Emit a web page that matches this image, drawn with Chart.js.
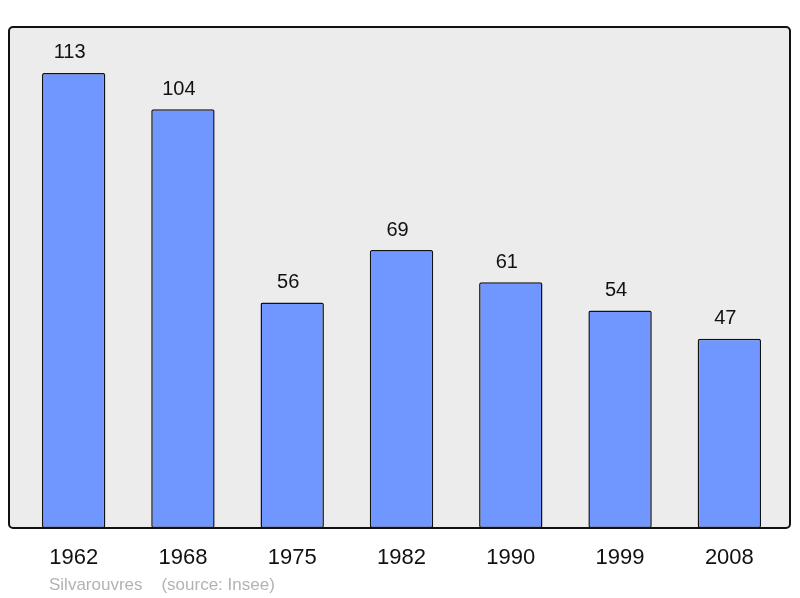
<!DOCTYPE html>
<html>
<head>
    <title>Silvarouvres</title>
    <script src="https://cdn.jsdelivr.net/npm/chart.js@4"></script>
    <style>
        body { margin: 0; background: #fff; }
        #wrap { position: relative; width: 800px; height: 598px; }
        #foot { position: absolute; left: 49px; top: 575px; font: 17px "Liberation Sans", Arial, sans-serif; color: #b3b3b3; white-space: pre; }
    </style>
</head>
<body>
    <div id="wrap">
        <canvas id="chartcanvas" width="800" height="598"></canvas>
        <div id="foot">Silvarouvres    (source: Insee)</div>
    </div>

    <script>
        const years = ['1962', '1968', '1975', '1982', '1990', '1999', '2008'];
        const population = [113, 104, 56, 69, 61, 54, 47];

        // grey box behind the bars, outline drawn on top
        const framePlugin = {
            id: 'frame',
            beforeDatasetsDraw(chart) {
                const a = chart.chartArea, c = chart.ctx;
                c.save();
                c.fillStyle = '#ececec';
                c.beginPath();
                c.roundRect(a.left - 10, a.top, a.right - a.left + 16, a.bottom - a.top, 4);
                c.fill();
                c.restore();
            },
            afterDatasetsDraw(chart) {
                const a = chart.chartArea, c = chart.ctx;
                c.save();
                c.strokeStyle = '#111';
                c.lineWidth = 2;
                c.beginPath();
                c.roundRect(a.left - 10, a.top, a.right - a.left + 16, a.bottom - a.top, 4);
                c.stroke();
                // value above each bar (sits a bit left of centre in the original)
                const meta = chart.getDatasetMeta(0);
                c.fillStyle = '#111';
                c.font = '20px "Liberation Sans", Arial, sans-serif';
                c.textAlign = 'center';
                c.textBaseline = 'middle';
                meta.data.forEach((bar, i) => {
                    c.fillText(population[i], bar.x - 4, bar.y - 20);
                });
                c.restore();
            }
        };

        const ctx = document.getElementById('chartcanvas');
        var chart = new Chart(ctx, {
            type: 'bar',
            data: {
                labels: years,
                datasets: [{
                    data: population,
                    backgroundColor: '#7096ff',
                    borderColor: '#111',
                    borderWidth: 1.5,
                    borderRadius: 2,
                    borderSkipped: false,
                    categoryPercentage: 1,
                    barPercentage: 0.58
                }]
            },
            options: {
                responsive: false,
                animation: false,
                layout: { padding: { left: 19, right: 16, top: 27, bottom: 0 } },
                plugins: { legend: { display: false }, tooltip: { enabled: false } },
                scales: {
                    x: {
                        grid: { display: false, drawTicks: false },
                        border: { display: false },
                        ticks: {
                            color: '#111',
                            padding: 17,
                            maxRotation: 0,
                            font: { family: '"Liberation Sans", Arial, sans-serif', size: 22 }
                        },
                        afterFit(s) { s.height = 70; }
                    },
                    y: {
                        display: false,
                        min: 0,
                        max: 124.4
                    }
                }
            },
            plugins: [framePlugin]
        });
    </script>
</body>
</html>
